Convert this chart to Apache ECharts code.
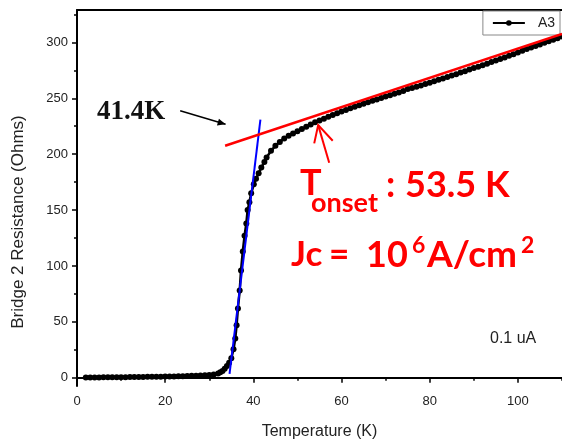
<!DOCTYPE html>
<html>
<head>
<meta charset="utf-8">
<script src="https://cdn.jsdelivr.net/npm/echarts@6/dist/echarts.min.js"></script>
<style>
  html, body { margin: 0; padding: 0; background: #fff; }
  #main { width: 562px; height: 440px; }
</style>
</head>
<body>
<div id="main"></div>
<script>
// 温度 (K)
var temps = [
  2, 3, 4, 5, 6, 7, 8, 9, 10, 11, 12, 13, 14, 15, 16, 17, 18, 19, 20, 21,
  22, 23, 24, 25, 26, 27, 28, 29, 30, 31, 32,
  32.5, 33, 33.5, 34, 34.5, 35, 35.5, 35.9, 36.2, 36.5, 36.9, 37.2, 37.6, 38, 38.4,
  38.7, 39.1, 39.5, 40.1, 40.6, 41.2, 41.8, 42.5,
  43, 44, 45, 46, 47, 48, 49, 50, 51, 52, 53, 54, 55, 56, 57, 58, 59, 60,
  61, 62, 63, 64, 65, 66, 67, 68, 69, 70, 71, 72, 73, 74, 75, 76, 77, 78, 79, 80,
  81, 82, 83, 84, 85, 86, 87, 88, 89, 90, 91, 92, 93, 94, 95, 96, 97, 98, 99, 100,
  101, 102, 103, 104, 105, 106, 107, 108, 109, 110
];
// 电阻 (Ohms)
var resist = [
  0.3, 0.3, 0.3, 0.3, 0.4, 0.4, 0.4, 0.5, 0.5, 0.5, 0.6, 0.6, 0.7, 0.7, 0.8, 0.8, 0.9, 0.9, 1.0, 1.1,
  1.2, 1.3, 1.4, 1.5, 1.7, 1.8, 2.0, 2.2, 2.5, 3.0, 3.8,
  4.8, 6.0, 8.0, 10.5, 13.5, 17.5, 25.5, 35, 47, 62, 78, 96, 113, 127, 138,
  150, 157, 165, 173, 178, 183, 188, 193,
  197, 203, 207.5, 211, 214, 216.5, 218.5, 220.5, 222.5, 224.5, 226.5, 228.5, 230.2, 231.8, 233.4, 235, 236.6, 238.2,
  239.6, 241, 242.4, 243.8, 245.2, 246.5, 247.8, 249, 250.3, 251.6, 252.8, 254, 255.2, 256.5, 258.3, 259.2, 260.3, 261.5, 262.8, 264,
  265.3, 266.5, 267.8, 269, 270.3, 271.6, 273, 274.3, 275.7, 277, 278.3, 279.6, 281, 282.4, 283.8, 285.2, 286.6, 288, 289.5, 291,
  292.5, 294, 295.4, 296.8, 298.2, 299.6, 301, 302.4, 303.8, 305.2
];
// 切线 (红: 正常态, 蓝: 转变区)
var redFit = [[33.6, 207.5], [110, 307.5]];
var blueFit = [[34.6, 3.5], [41.6, 231]];
// 刻度
var xLabels = [0, 20, 40, 60, 80, 100];
var xMinor = [10, 30, 50, 70, 90, 110];
var yLabels = [0, 50, 100, 150, 200, 250, 300];
var yMinor = [25, 75, 125, 175, 225, 275, 325];
// 箭头 (数据坐标)
var blackArrow = [[23.4, 238.8], [33.7, 226.7]];
var redArrowTip = [54.7, 226];
var redArrowLeft = [53.8, 209.7];
var redArrowRight = [58.0, 212];
var redArrowTail = [57.2, 192.3];

var chart = echarts.init(document.getElementById('main'), null, { renderer: 'canvas' });

var sans = '"Liberation Sans", Arial, sans-serif';
var data = [];
for (var i = 0; i < temps.length; i++) {
  data.push([temps[i], resist[i]]);
}

var option = {
  animation: false,
  backgroundColor: '#fff',
  grid: { left: 77, right: 0, top: 10, bottom: 54, containLabel: false, outerBoundsMode: 'none' },
  legend: {
    data: ['A3'],
    right: 2,
    top: 11,
    backgroundColor: '#fff',
    borderColor: '#888',
    borderWidth: 1,
    borderRadius: 0,
    padding: [5, 5, 5, 9],
    itemWidth: 32,
    itemHeight: 7,
    textStyle: { fontSize: 14, color: '#222', fontFamily: sans, padding: [0, 0, 0, 8] }
  },
  xAxis: [{
    type: 'value',
    min: 0,
    max: 110,
    position: 'bottom',
    name: 'Temperature (K)',
    nameLocation: 'middle',
    nameGap: 38,
    nameTextStyle: { fontSize: 16, color: '#222', fontFamily: sans },
    axisLine: { lineStyle: { color: '#000', width: 2 } },
    axisTick: { customValues: xLabels, length: 5, lineStyle: { color: '#000', width: 1.5 } },
    axisLabel: { customValues: xLabels, fontSize: 13, color: '#222', margin: 9, fontFamily: sans },
    splitLine: { show: false }
  }, {
    type: 'value',
    min: 0,
    max: 110,
    position: 'bottom',
    axisLine: { show: false },
    axisTick: { customValues: xMinor, length: 3, lineStyle: { color: '#000', width: 1.5 } },
    axisLabel: { show: false },
    splitLine: { show: false }
  }, {
    type: 'value',
    min: 0,
    max: 110,
    position: 'top',
    axisLine: { lineStyle: { color: '#000', width: 2 } },
    axisTick: { show: false },
    axisLabel: { show: false },
    splitLine: { show: false }
  }],
  yAxis: [{
    type: 'value',
    min: -7.4,
    max: 329,
    axisLine: { lineStyle: { color: '#000', width: 2 } },
    axisTick: { customValues: yLabels, length: 5, lineStyle: { color: '#000', width: 1.5 } },
    axisLabel: { customValues: yLabels, fontSize: 13, color: '#222', margin: 9, fontFamily: sans },
    splitLine: { show: false }
  }, {
    type: 'value',
    min: -7.4,
    max: 329,
    position: 'left',
    axisLine: { show: false },
    axisTick: { customValues: yMinor, length: 3, lineStyle: { color: '#000', width: 1.5 } },
    axisLabel: { show: false },
    splitLine: { show: false }
  }],
  series: [{
    name: 'A3',
    type: 'line',
    data: data,
    symbol: 'circle',
    symbolSize: 6,
    showSymbol: true,
    itemStyle: { color: '#000' },
    lineStyle: { color: '#000', width: 2.5 },
    z: 2
  }, {
    name: 'blue',
    type: 'line',
    data: blueFit,
    symbol: 'none',
    lineStyle: { color: '#0000ff', width: 2 },
    z: 3
  }, {
    name: 'red',
    type: 'line',
    data: redFit,
    symbol: 'none',
    lineStyle: { color: '#ff0000', width: 2.5 },
    z: 4
  }]
};
chart.setOption(option);

// 注释: 箭头和文字
function px(p) {
  return chart.convertToPixel({ xAxisIndex: 0, yAxisIndex: 0 }, p);
}

function arrowHead(from, to, len, half) {
  var a = Math.atan2(to[1] - from[1], to[0] - from[0]);
  var bx = to[0] - len * Math.cos(a), by = to[1] - len * Math.sin(a);
  return [to,
    [bx + half * Math.sin(a), by - half * Math.cos(a)],
    [bx - half * Math.sin(a), by + half * Math.cos(a)]];
}

var b0 = px(blackArrow[0]), b1 = px(blackArrow[1]);
var rt = px(redArrowTip), rl = px(redArrowLeft), rr = px(redArrowRight), rtail = px(redArrowTail);

var red = '#ff0000';
var redFont = '"Lato", "Open Sans", sans-serif';

function txt(s, x, y, size, color, family, weight) {
  return {
    type: 'text', x: x, y: y, z: 100,
    style: {
      text: s, fill: color,
      font: (weight || 'bold') + ' ' + size + 'px ' + family,
      align: 'left', verticalAlign: 'middle'
    }
  };
}

// 纵轴标题 (偏下)
var yName = txt('Bridge 2 Resistance (Ohms)', 18, 222, 17, '#222', sans, 'normal');
yName.rotation = Math.PI / 2;
yName.style.align = 'center';

chart.setOption({
  graphic: [
    yName,
    { type: 'line', z: 100, shape: { x1: b0[0], y1: b0[1], x2: b1[0], y2: b1[1] }, style: { stroke: '#000', lineWidth: 1.5 } },
    { type: 'polygon', z: 100, shape: { points: arrowHead(b0, b1, 8, 3.5) }, style: { fill: '#000' } },
    { type: 'polyline', z: 100, shape: { points: [rl, rt, rr] }, style: { stroke: red, lineWidth: 2, fill: null } },
    { type: 'line', z: 100, shape: { x1: rt[0], y1: rt[1], x2: rtail[0], y2: rtail[1] }, style: { stroke: red, lineWidth: 2 } },
    txt('41.4K', 97, 112, 27, '#111', '"Liberation Serif", "DejaVu Serif", serif'),
    txt('T', 300, 183, 36, red, redFont),
    txt('onset', 311, 203, 27, red, redFont),
    txt(':', 386, 185, 36, red, redFont),
    txt('53.5 K', 405, 185, 36, red, redFont),
    txt('Jc', 291, 255, 35, red, redFont),
    txt('=', 329, 255, 35, red, redFont),
    txt('10', 366, 255, 36, red, redFont),
    txt('6', 412, 246, 23, red, redFont),
    txt('A/cm', 427, 255, 37, red, redFont),
    txt('2', 521, 246, 23, red, redFont),
    txt('0.1 uA', 490, 339, 16, '#222', sans, 'normal')
  ]
});
</script>
</body>
</html>
